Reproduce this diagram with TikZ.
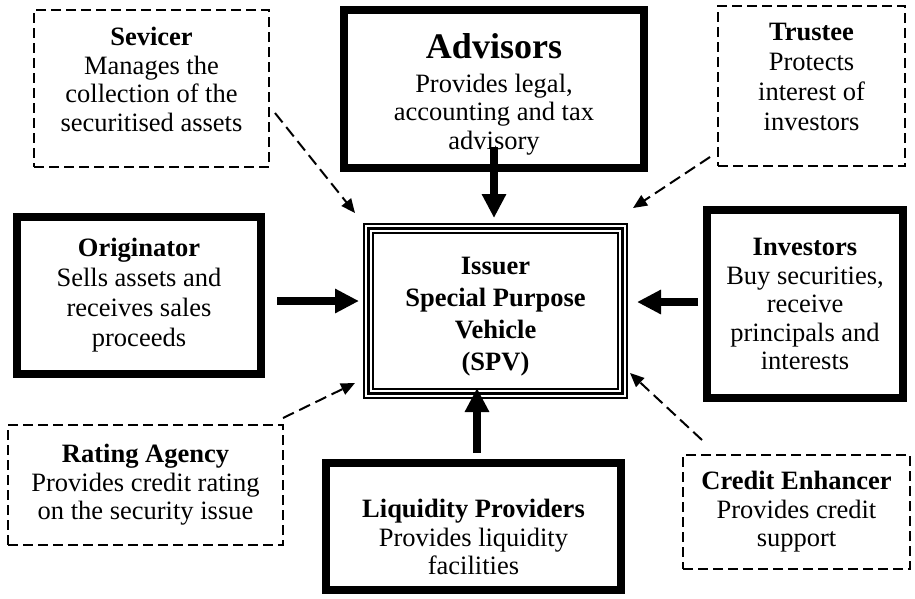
\documentclass[tikz,border=0pt]{standalone}
\usepackage{fontspec}
\setmainfont{Liberation Serif}
\usetikzlibrary{arrows.meta}
\begin{document}
\begin{tikzpicture}[x=1pt,y=-1pt,
  box/.style={draw, rectangle, outer sep=0pt, inner sep=0pt, align=center, font=\fontsize{26.5}{28.5}\selectfont},
  solidbox/.style={box, line width=8pt},
  dashbox/.style={box, line width=1.8pt, dash pattern=on 10pt off 5pt},
  bigarrow/.style={line width=8pt, -{Triangle[length=24pt,width=23pt]}},
  dasharrow/.style={line width=2pt, dash pattern=on 12pt off 6pt, -{Triangle[length=14pt,width=12pt]}}]
\path[fill=white, use as bounding box] (0,0) rectangle (915,598);

\node[dashbox, minimum width=235pt, minimum height=157pt] (serv) at (151.5,88.5)
  {\textbf{Sevicer}\\Manages the\\collection of the\\securitised assets\rule[-18pt]{0pt}{1pt}};
\node[solidbox, minimum width=300pt, minimum height=158pt] (adv) at (494,89)
  {\rule{0pt}{36pt}{\fontsize{36}{40}\selectfont\textbf{Advisors}}\\[5pt]Provides legal,\\accounting and tax\\advisory};
\node[dashbox, minimum width=187pt, minimum height=160pt, font=\fontsize{26.5}{30}\selectfont] (trus) at (811.5,86)
  {\textbf{Trustee}\\Protects\\interest of\\investors\rule[-18pt]{0pt}{1pt}};
\node[solidbox, minimum width=244pt, minimum height=157pt, font=\fontsize{26.5}{30}\selectfont] (orig) at (139,295.5)
  {\textbf{Originator}\\Sells assets and\\receives sales\\proceeds};
\node[solidbox, minimum width=196pt, minimum height=188pt] (inv) at (805,304)
  {\textbf{Investors}\\Buy securities,\\receive\\principals and\\interests};
\node[dashbox, minimum width=275pt, minimum height=120pt] (rate) at (145.5,485)
  {\textbf{Rating Agency}\\Provides credit rating\\on the security issue};
\node[solidbox, minimum width=295pt, minimum height=127pt] (liq) at (473.5,526.5)
  {\rule{0pt}{40pt}\textbf{Liquidity Providers}\\Provides liquidity\\facilities};
\node[dashbox, minimum width=227pt, minimum height=114pt] (cred) at (796.5,512)
  {\textbf{Credit Enhancer}\\Provides credit\\support};

\node[draw, line width=2pt, outer sep=0pt, inner sep=0pt, minimum width=263pt, minimum height=174pt,
  align=center, font=\bfseries\fontsize{26.5}{32}\selectfont] (spv) at (495.5,311)
  {\rule{0pt}{28pt}Issuer\\Special Purpose\\Vehicle\\(SPV)};
\draw[line width=3.5pt] ([shift={(4.5,4.5)}]spv.north west) rectangle ([shift={(-4.5,-4.5)}]spv.south east);
\draw[line width=2pt] ([shift={(9,9)}]spv.north west) rectangle ([shift={(-9,-9)}]spv.south east);

\draw[bigarrow, shorten <=-21pt, shorten >=6pt] (adv.south) -- (adv.south |- spv.north);
\coordinate (o1) at ([yshift=-5.5pt]orig.east);
\draw[bigarrow, shorten <=16pt, shorten >=5pt] (o1) -- (spv.west |- o1);
\coordinate (i1) at ([yshift=2pt]inv.west);
\draw[bigarrow, shorten <=9pt, shorten >=10pt] (i1) -- (spv.east |- i1);
\coordinate (l1) at ([xshift=3.5pt]liq.north);
\draw[bigarrow, shorten <=10pt, shorten >=-10pt] (l1) -- (l1 |- spv.south);

\draw[dasharrow] ([shift={(6,24.5)}]serv.east) -- ([shift={(-9,-11)}]spv.north west);
\draw[dasharrow] ([shift={(-8,-9)}]trus.south west) -- ([shift={(6,-16)}]spv.north east);
\draw[dasharrow] ([shift={(0,-7)}]rate.north east) -- ([shift={(-9,-15)}]spv.south west);
\draw[dasharrow] ([shift={(19,-15)}]cred.north west) -- ([shift={(3,-25)}]spv.south east);
\end{tikzpicture}
\end{document}
